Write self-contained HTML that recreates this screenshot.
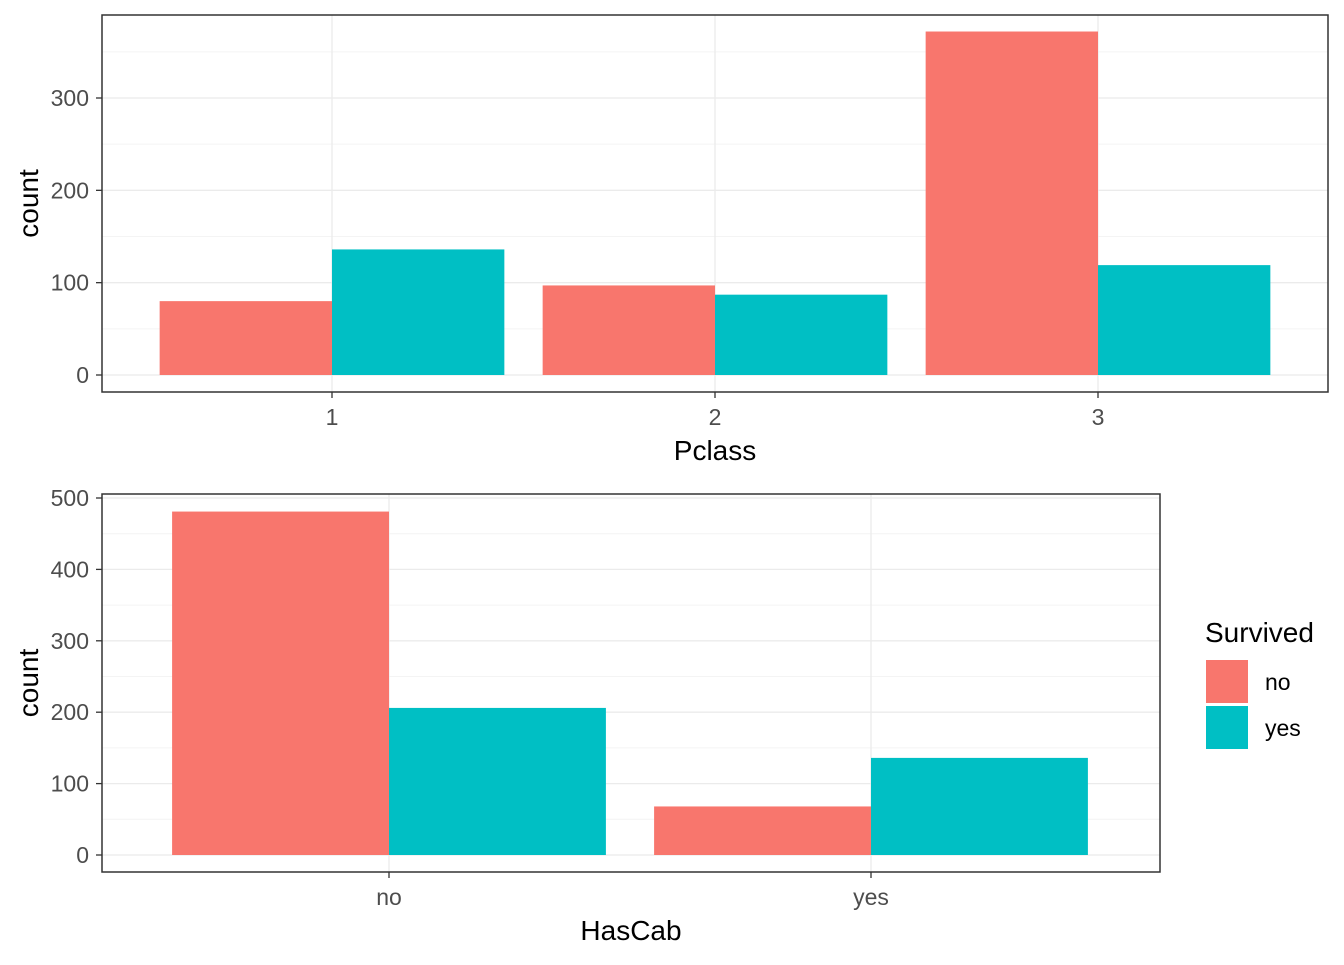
<!DOCTYPE html>
<html><head><meta charset="utf-8"><style>
html,body{margin:0;padding:0;background:#fff;}
svg text{font-family:"Liberation Sans",Arial,sans-serif;}
</style></head><body>
<svg id="chart" width="1344" height="960" xmlns="http://www.w3.org/2000/svg"></svg>
<script>
const pclassCats = ["1","2","3"];
const pclassNo = [80, 97, 372];
const pclassYes = [136, 87, 119];
const pclassTicks = [0,100,200,300];
const cabCats = ["no","yes"];
const cabNo = [481, 68];
const cabYes = [206, 136];
const cabTicks = [0,100,200,300,400,500];
const seriesColors = ["#F8766D","#00BFC4"];
const legendLabels = ["no","yes"];

const svg = document.getElementById('chart');
const NS = "http://www.w3.org/2000/svg";
function el(tag, attrs, parent){
  const e = document.createElementNS(NS, tag);
  for (const k in attrs) e.setAttribute(k, attrs[k]);
  (parent||svg).appendChild(e);
  return e;
}
function txt(s, attrs, parent){ const t = el('text', attrs, parent); t.textContent = s; return t; }

function panel(name, box, cats, noVals, yesVals, ticks, y0px, perUnit, x0, step, xTitle){
  const g = el('g', {});
  
  
  const y = v => y0px - v*perUnit;
  const x = i => x0 + i*step;
  for (let k=0;k<ticks.length;k++){
    const v = ticks[k] + (ticks[1]-ticks[0])/2;
    if (y(v) > box.t) el('line',{x1:box.l,x2:box.r,y1:y(v),y2:y(v),stroke:'#f4f4f4','stroke-width':1},g);
  }
  ticks.forEach(v=>el('line',{x1:box.l,x2:box.r,y1:y(v),y2:y(v),stroke:'#ebebeb','stroke-width':1.3},g));
  cats.forEach((c,i)=>el('line',{x1:x(i),x2:x(i),y1:box.t,y2:box.b,stroke:'#ebebeb','stroke-width':1.3},g));
  const bw = step*0.45;
  cats.forEach((c,i)=>{
    const b1 = el('rect',{x:x(i)-bw,y:y(noVals[i]),width:bw,height:y0px-y(noVals[i]),fill:seriesColors[0]},g);
    
    
    const b2 = el('rect',{x:x(i),y:y(yesVals[i]),width:bw,height:y0px-y(yesVals[i]),fill:seriesColors[1]},g);
    
    
  });
  el('rect',{x:box.l,y:box.t,width:box.r-box.l,height:box.b-box.t,fill:'none',stroke:'#333','stroke-width':1.5},g);
  ticks.forEach(v=>{
    el('line',{x1:box.l-6,x2:box.l,y1:y(v),y2:y(v),stroke:'#333','stroke-width':1.3},g);
    const t = txt(String(v),{x:box.l-13,y:y(v)+8,'text-anchor':'end','font-size':23,fill:'#4d4d4d'},g);
    
    
  });
  cats.forEach((c,i)=>{
    el('line',{x1:x(i),x2:x(i),y1:box.b,y2:box.b+6,stroke:'#333','stroke-width':1.3},g);
    const t = txt(c,{x:x(i),y:box.b+33,'text-anchor':'middle','font-size':23,fill:'#4d4d4d'},g);
    
    
  });
  const xt = txt(xTitle,{x:(box.l+box.r)/2,y:box.b+68,'text-anchor':'middle','font-size':28,fill:'#000'},g);
  
  
  const cy = (box.t+box.b)/2;
  const yt = txt('count',{x:0,y:0,'text-anchor':'middle','font-size':28,fill:'#000',transform:`translate(38,${cy}) rotate(-90)`},g);
  
  
}

panel('pclass-panel',{l:102,r:1328,t:15,b:392},pclassCats,pclassNo,pclassYes,pclassTicks,375,277/300,332,383,'Pclass');
panel('hascab-panel',{l:102,r:1160,t:494,b:872},cabCats,cabNo,cabYes,cabTicks,855,357/500,389,482,'HasCab');

const lg = el('g',{});


const lt = txt('Survived',{x:1205,y:642,'font-size':28,fill:'#000'},lg);


legendLabels.forEach((s,i)=>{
  const r = el('rect',{x:1206,y:660+i*46,width:42,height:43,fill:seriesColors[i]},lg);
  
  
  const t = txt(s,{x:1265,y:690+i*46,'font-size':23,fill:'#000'},lg);
  
  
});
</script>
</body></html>
